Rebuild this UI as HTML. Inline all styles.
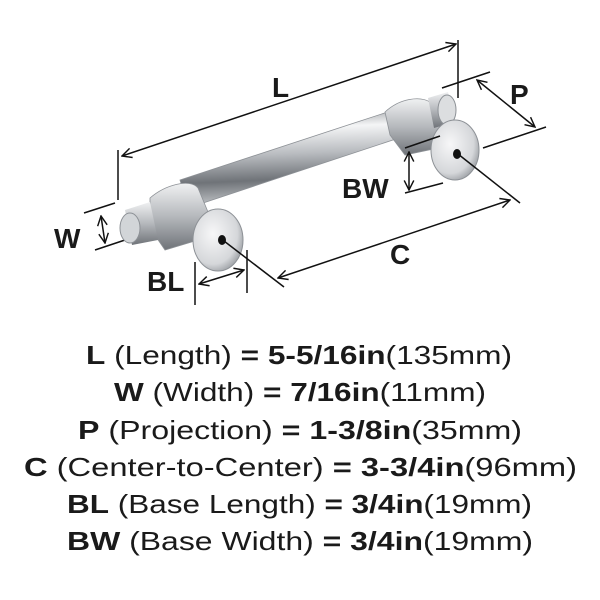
<!DOCTYPE html>
<html><head><style>
body{margin:0;background:#fff;}
svg{display:block}
.t{font-family:"Liberation Sans",sans-serif;font-size:26px;fill:#1a1a1a;text-anchor:start}
.b{font-weight:bold}
.lab{font-family:"Liberation Sans",sans-serif;font-size:28px;font-weight:bold;fill:#1a1a1a}
</style></head><body>
<svg width="600" height="600" viewBox="0 0 600 600" xmlns="http://www.w3.org/2000/svg">
<defs>
<linearGradient id="bar" x1="0" y1="0" x2="0.1" y2="1">
<stop offset="0" stop-color="#7d8186"/><stop offset="0.25" stop-color="#f4f5f6"/><stop offset="0.5" stop-color="#b9bcc0"/><stop offset="0.75" stop-color="#6f7378"/><stop offset="1" stop-color="#c8cbce"/>
</linearGradient>
<linearGradient id="post" x1="0" y1="0" x2="0" y2="1">
<stop offset="0" stop-color="#f0f1f2"/><stop offset="0.5" stop-color="#b5b8bc"/><stop offset="1" stop-color="#6f7378"/>
</linearGradient>
<radialGradient id="disk" cx="0.4" cy="0.4" r="0.7"><stop offset="0" stop-color="#f7f7f8"/><stop offset="0.7" stop-color="#d5d7da"/><stop offset="1" stop-color="#8c9095"/></radialGradient>
<marker id="ah" viewBox="0 0 10 10" refX="9" refY="5" markerWidth="8" markerHeight="8" orient="auto-start-reverse"><path d="M1,1 L9,5 L1,9" fill="none" stroke="#111" stroke-width="1.2"/></marker>
</defs>
<g stroke="#111" stroke-width="1.5" fill="none">
<line x1="118" y1="150" x2="118" y2="200"/><line x1="458" y1="40" x2="458" y2="98"/>
<line x1="122" y1="156" x2="456" y2="44" marker-start="url(#ah)" marker-end="url(#ah)"/>
<line x1="442" y1="88" x2="490" y2="72"/><line x1="483" y1="148" x2="546" y2="127"/>
<line x1="477" y1="80" x2="535" y2="127" marker-start="url(#ah)" marker-end="url(#ah)"/>
<line x1="84" y1="213" x2="115" y2="203"/><line x1="95" y1="250" x2="125" y2="240"/>
<line x1="101" y1="216" x2="105" y2="243" marker-start="url(#ah)" marker-end="url(#ah)"/>
</g>
<g>
<path d="M180,180 L400,108 L408,135 L188,208 Z" fill="url(#bar)" stroke="#8d9196" stroke-width="0.8"/>
<path d="M150,198 C165,185 190,178 198,188 L208,212 L205,238 L165,250 L150,228 Z" fill="url(#post)" stroke="#8d9196" stroke-width="0.8"/>
<path d="M385,112 C400,98 420,96 430,102 L440,118 L438,148 L405,155 L390,135 Z" fill="url(#post)" stroke="#8d9196" stroke-width="0.8"/>
<path d="M125,210 L150,202 L158,240 L132,245 Z" fill="url(#post)"/>
<ellipse cx="130" cy="228" rx="10" ry="15" fill="#d2d5d8" stroke="#8d9196"/>
<path d="M428,98 L448,92 L455,122 L434,128 Z" fill="url(#post)"/>
<ellipse cx="447" cy="110" rx="9" ry="15" fill="#dcdee0" stroke="#8d9196"/>
<ellipse cx="218" cy="240" rx="25" ry="31" fill="url(#disk)" stroke="#8d9196"/>
<ellipse cx="222" cy="240" rx="4" ry="5" fill="#111"/>
<ellipse cx="455" cy="150" rx="24" ry="30" fill="url(#disk)" stroke="#8d9196"/>
<ellipse cx="457" cy="154" rx="4" ry="5" fill="#111"/>
</g>
<g stroke="#111" stroke-width="1.5" fill="none">
<line x1="405" y1="148" x2="440" y2="136"/><line x1="405" y1="193" x2="443" y2="183"/>
<line x1="409" y1="152" x2="409" y2="190" marker-start="url(#ah)" marker-end="url(#ah)"/>
<line x1="224" y1="241" x2="284" y2="287"/><line x1="458" y1="154" x2="520" y2="203"/>
<line x1="278" y1="278" x2="510" y2="200" marker-start="url(#ah)" marker-end="url(#ah)"/>
<line x1="195" y1="262" x2="195" y2="305"/><line x1="247" y1="250" x2="247" y2="293"/>
<line x1="199" y1="284" x2="244" y2="270" marker-start="url(#ah)" marker-end="url(#ah)"/>
</g>
<text class="lab" x="272" y="97">L</text>
<text class="lab" x="510" y="104">P</text>
<text class="lab" x="54" y="248">W</text>
<text class="lab" x="342" y="198">BW</text>
<text class="lab" x="390" y="264">C</text>
<text class="lab" x="147" y="291">BL</text>
<text class="t" x="86" y="364" textLength="426" lengthAdjust="spacingAndGlyphs"><tspan class="b">L</tspan> (Length) <tspan class="b">= 5-5/16in</tspan>(135mm)</text>
<text class="t" x="114" y="401" textLength="372" lengthAdjust="spacingAndGlyphs"><tspan class="b">W</tspan> (Width) <tspan class="b">= 7/16in</tspan>(11mm)</text>
<text class="t" x="78" y="439" textLength="444" lengthAdjust="spacingAndGlyphs"><tspan class="b">P</tspan> (Projection) <tspan class="b">= 1-3/8in</tspan>(35mm)</text>
<text class="t" x="24" y="476" textLength="553" lengthAdjust="spacingAndGlyphs"><tspan class="b">C</tspan> (Center-to-Center) <tspan class="b">= 3-3/4in</tspan>(96mm)</text>
<text class="t" x="67" y="513" textLength="465" lengthAdjust="spacingAndGlyphs"><tspan class="b">BL</tspan> (Base Length) <tspan class="b">= 3/4in</tspan>(19mm)</text>
<text class="t" x="67" y="550" textLength="466" lengthAdjust="spacingAndGlyphs"><tspan class="b">BW</tspan> (Base Width) <tspan class="b">= 3/4in</tspan>(19mm)</text>
</svg>
</body></html>
